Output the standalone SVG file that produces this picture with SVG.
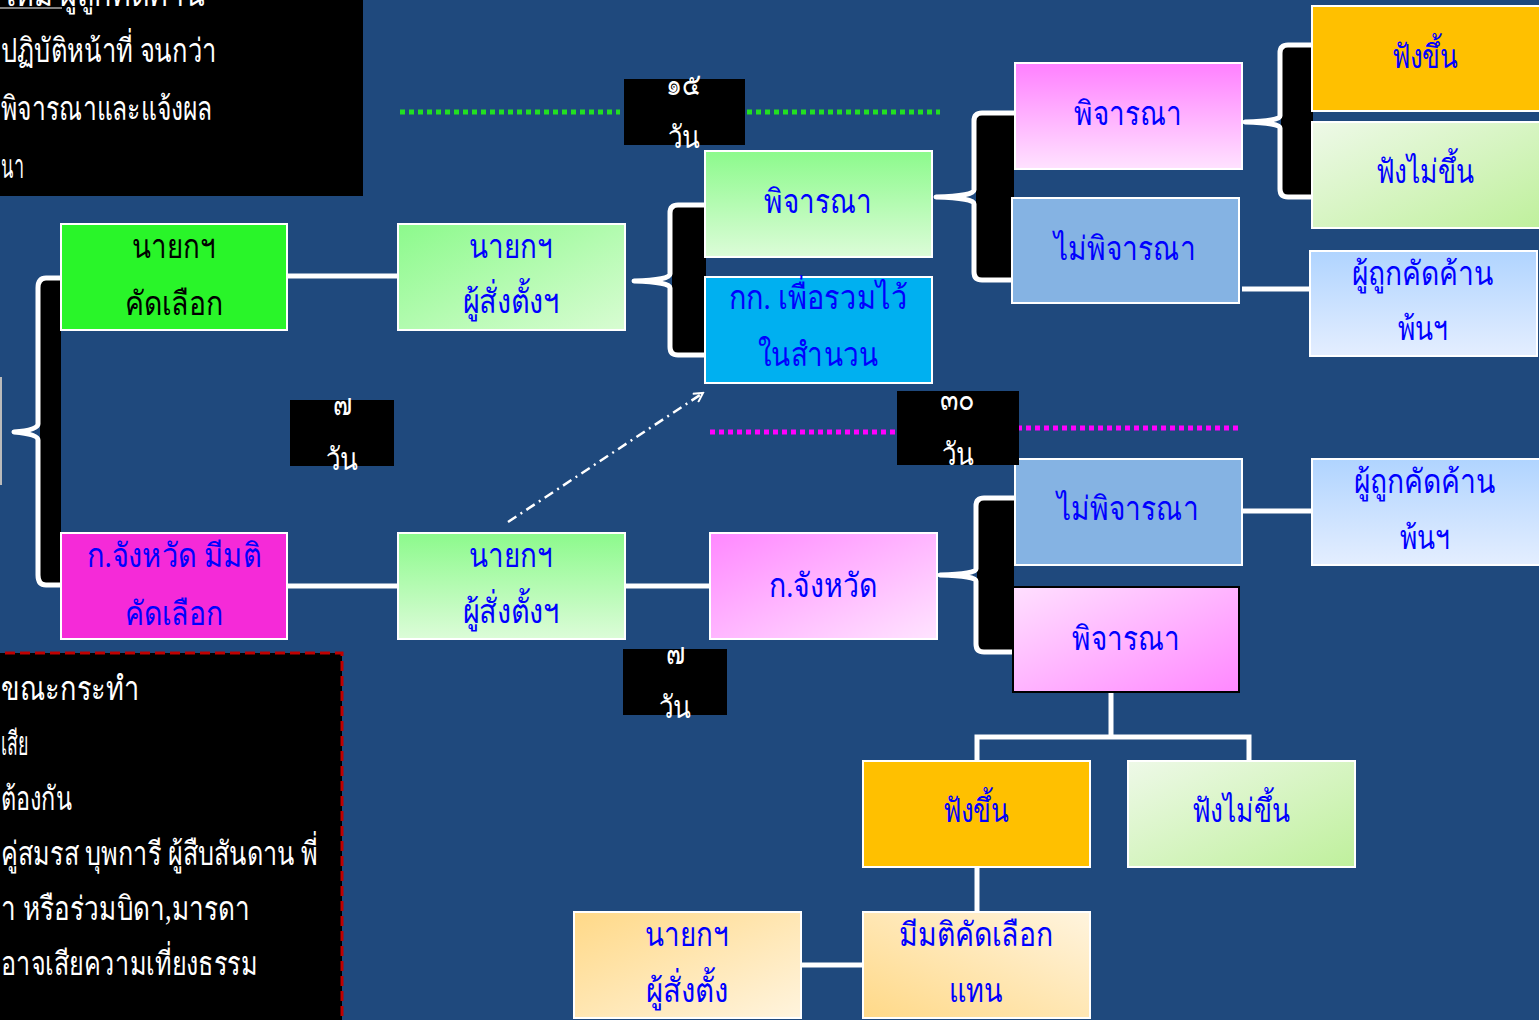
<svg xmlns="http://www.w3.org/2000/svg" width="1539" height="1020" viewBox="0 0 1539 1020">
<style>
.t{font-family:"Liberation Serif","DejaVu Serif",serif;font-size:33px;fill:#0000FF;text-anchor:middle}
.w{font-family:"Liberation Serif","DejaVu Serif",serif;font-size:33px;fill:#FFFFFF}
.d{font-family:"Liberation Serif","DejaVu Serif",serif;font-size:31px;fill:#FFFFFF;text-anchor:middle}
.n{stroke:#FFFFFF;stroke-width:2}
.c{stroke:#FFFFFF;stroke-width:5;fill:none}
.br{stroke:#FFFFFF;stroke-width:5;fill:none;stroke-linejoin:round}
</style>
<defs>
<linearGradient id="gV" x1="0" y1="0" x2="0" y2="1"><stop offset="0" stop-color="#8CFA8C"/><stop offset="1" stop-color="#DCFCD8"/></linearGradient>
<linearGradient id="gD" x1="0" y1="0" x2="1" y2="1"><stop offset="0" stop-color="#8CFA8C"/><stop offset="1" stop-color="#D8FCD2"/></linearGradient>
<linearGradient id="pV" x1="0" y1="0" x2="0" y2="1"><stop offset="0" stop-color="#FF80FF"/><stop offset="1" stop-color="#FFE2FF"/></linearGradient>
<linearGradient id="pD" x1="0" y1="0" x2="1" y2="1"><stop offset="0" stop-color="#FF88FF"/><stop offset="1" stop-color="#FFE4FF"/></linearGradient>
<linearGradient id="pD2" x1="0" y1="0" x2="1" y2="1"><stop offset="0" stop-color="#FFE0FF"/><stop offset="1" stop-color="#FF88FF"/></linearGradient>
<linearGradient id="lg" x1="0" y1="0" x2="1" y2="1"><stop offset="0" stop-color="#EEF9E8"/><stop offset="1" stop-color="#BFF09C"/></linearGradient>
<linearGradient id="bV" x1="0" y1="0" x2="0" y2="1"><stop offset="0" stop-color="#B0D4FF"/><stop offset="1" stop-color="#E4EEFF"/></linearGradient>
<linearGradient id="oD" x1="0" y1="0" x2="1" y2="1"><stop offset="0" stop-color="#FFD988"/><stop offset="1" stop-color="#FFF4DE"/></linearGradient>
<linearGradient id="oD2" x1="0" y1="1" x2="1" y2="0"><stop offset="0" stop-color="#FFD988"/><stop offset="1" stop-color="#FFF4DE"/></linearGradient>
<marker id="arr" markerWidth="12" markerHeight="12" refX="10" refY="6" orient="auto" markerUnits="userSpaceOnUse"><path d="M1,1 L10,6 L1,11" fill="none" stroke="#FFFFFF" stroke-width="2"/></marker>
</defs>
<rect x="0" y="0" width="1539" height="1020" fill="#1F497D"/>

<g id="note-top">
<rect x="-10" y="-10" width="373" height="206" fill="#000000"/>
<text class="w" x="1" y="6" textLength="204" lengthAdjust="spacingAndGlyphs">ใหม่  ผู้ถูกคัดค้าน</text>
<line x1="0" y1="8" x2="62" y2="8" stroke="#FFFFFF" stroke-width="1"/>
<text class="w" x="1" y="62" textLength="216" lengthAdjust="spacingAndGlyphs">ปฏิบัติหน้าที่ จนกว่า</text>
<text class="w" x="1" y="120" textLength="211" lengthAdjust="spacingAndGlyphs">พิจารณาและแจ้งผล</text>
<text class="w" x="1" y="178" textLength="23" lengthAdjust="spacingAndGlyphs">นา</text>
</g>

<g id="note-bottom">
<rect x="-10" y="653" width="352" height="380" fill="#000000" stroke="#C00000" stroke-width="3" stroke-dasharray="10,5"/>
<text class="w" x="1" y="700" textLength="139" lengthAdjust="spacingAndGlyphs">ขณะกระทำ</text>
<text class="w" x="1" y="755" textLength="27" lengthAdjust="spacingAndGlyphs">เสีย</text>
<text class="w" x="1" y="810" textLength="71" lengthAdjust="spacingAndGlyphs">ต้องกัน</text>
<text class="w" x="1" y="865" textLength="317" lengthAdjust="spacingAndGlyphs">คู่สมรส บุพการี ผู้สืบสันดาน พี่</text>
<text class="w" x="1" y="920" textLength="249" lengthAdjust="spacingAndGlyphs">า หรือร่วมบิดา,มารดา</text>
<text class="w" x="1" y="975" textLength="257" lengthAdjust="spacingAndGlyphs">อาจเสียความเที่ยงธรรม</text>
</g>

<g id="edge-box"><rect x="-100" y="378" width="101" height="106" fill="none" stroke="#BBBBBB" stroke-width="2"/></g>

<g id="connectors">
<line class="c" x1="287" y1="276" x2="398" y2="276"/>
<line class="c" x1="287" y1="586" x2="398" y2="586"/>
<line class="c" x1="625" y1="586" x2="710" y2="586"/>
<line class="c" x1="1242" y1="289" x2="1310" y2="289"/>
<line class="c" x1="1242" y1="511" x2="1312" y2="511"/>
<path class="c" d="M1111,692 V737 M977,761 V737 H1249 V761"/>
<line class="c" x1="977" y1="867" x2="977" y2="912"/>
<line class="c" x1="801" y1="965" x2="863" y2="965"/>
<line x1="508" y1="522" x2="703" y2="393" stroke="#FFFFFF" stroke-width="2.5" stroke-dasharray="10,5,2,5" marker-end="url(#arr)"/>
<path stroke="#22E022" stroke-width="5" stroke-dasharray="5,4" d="M400,112 H620 M738,112 H940"/>
<path stroke="#FF00FF" stroke-width="5" stroke-dasharray="5,4" d="M710,432 H907 M1017,428 H1238"/>
<rect x="40" y="278" width="21" height="307" fill="#000000"/>
<path class="br" d="M60,278 H46 Q38,278 38,288 V424 Q38,430 14,432 Q38,434 38,440 V575 Q38,585 46,585 H60"/>
<rect x="672" y="205" width="34" height="150" fill="#000000"/>
<path class="br" d="M705,205 H678 Q670,205 670,213 V274 Q670,280 634,281 Q670,282 670,288 V347 Q670,355 678,355 H705"/>
<rect x="976" y="113" width="38" height="167" fill="#000000"/>
<path class="br" d="M1014,113 H982 Q974,113 974,121 V190 Q974,196 936,197 Q974,198 974,204 V272 Q974,280 982,280 H1014"/>
<rect x="1281" y="45" width="32" height="152" fill="#000000"/>
<path class="br" d="M1312,45 H1288 Q1280,45 1280,53 V116 Q1280,121 1245,122 Q1280,123 1280,128 V189 Q1280,197 1288,197 H1312"/>
<rect x="977" y="498" width="37" height="154" fill="#000000"/>
<path class="br" d="M1014,498 H984 Q976,498 976,506 V569 Q976,574 940,575 Q976,576 976,581 V644 Q976,652 984,652 H1014"/>
</g>

<g id="n-nayok-select"><rect class="n" x="61" y="224" width="226" height="106" fill="#29F529"/><text class="t" x="174" y="258" textLength="84" lengthAdjust="spacingAndGlyphs" style="fill:#000000">นายกฯ</text><text class="t" x="174" y="315" textLength="98" lengthAdjust="spacingAndGlyphs" style="fill:#000000">คัดเลือก</text></g>
<g id="n-province-select"><rect class="n" x="61" y="533" width="226" height="106" fill="#F52AD8"/><text class="t" x="174" y="567" textLength="174" lengthAdjust="spacingAndGlyphs">ก.จังหวัด มีมติ</text><text class="t" x="174" y="625" textLength="98" lengthAdjust="spacingAndGlyphs">คัดเลือก</text></g>
<g id="n-nayok-appoint-1"><rect class="n" x="398" y="224" width="227" height="106" fill="url(#gD)"/><text class="t" x="511" y="258" textLength="84" lengthAdjust="spacingAndGlyphs">นายกฯ</text><text class="t" x="511" y="313" textLength="97" lengthAdjust="spacingAndGlyphs">ผู้สั่งตั้งฯ</text></g>
<g id="n-nayok-appoint-2"><rect class="n" x="398" y="533" width="227" height="106" fill="url(#gV)"/><text class="t" x="511" y="567" textLength="84" lengthAdjust="spacingAndGlyphs">นายกฯ</text><text class="t" x="511" y="623" textLength="97" lengthAdjust="spacingAndGlyphs">ผู้สั่งตั้งฯ</text></g>
<g id="n-consider-green"><rect class="n" x="705" y="151" width="227" height="106" fill="url(#gV)"/><text class="t" x="818" y="213" textLength="108" lengthAdjust="spacingAndGlyphs">พิจารณา</text></g>
<g id="n-kk-file"><rect class="n" x="705" y="277" width="227" height="106" fill="#00B0F0"/><text class="t" x="818" y="309" textLength="179" lengthAdjust="spacingAndGlyphs">กก. เพื่อรวมไว้</text><text class="t" x="818" y="366" textLength="121" lengthAdjust="spacingAndGlyphs">ในสำนวน</text></g>
<g id="n-consider-pink"><rect class="n" x="1015" y="63" width="227" height="106" fill="url(#pV)"/><text class="t" x="1128" y="125" textLength="108" lengthAdjust="spacingAndGlyphs">พิจารณา</text></g>
<g id="n-notconsider-1"><rect class="n" x="1012" y="198" width="227" height="105" fill="#85B3E3"/><text class="t" x="1125" y="260" textLength="142" lengthAdjust="spacingAndGlyphs">ไม่พิจารณา</text></g>
<g id="n-upheld-1"><rect class="n" x="1312" y="6" width="229" height="105" fill="#FFC000"/><text class="t" x="1425" y="68" textLength="67" lengthAdjust="spacingAndGlyphs">ฟังขึ้น</text></g>
<g id="n-rejected-1"><rect class="n" x="1312" y="122" width="229" height="106" fill="url(#lg)"/><text class="t" x="1425" y="183" textLength="99" lengthAdjust="spacingAndGlyphs">ฟังไม่ขึ้น</text></g>
<g id="n-released-1"><rect class="n" x="1310" y="251" width="227" height="105" fill="url(#bV)"/><text class="t" x="1423" y="285" textLength="142" lengthAdjust="spacingAndGlyphs">ผู้ถูกคัดค้าน</text><text class="t" x="1423" y="340" textLength="51" lengthAdjust="spacingAndGlyphs">พ้นฯ</text></g>
<g id="n-province"><rect class="n" x="710" y="533" width="227" height="106" fill="url(#pD)"/><text class="t" x="823" y="597" textLength="108" lengthAdjust="spacingAndGlyphs">ก.จังหวัด</text></g>
<g id="n-notconsider-2"><rect class="n" x="1015" y="459" width="227" height="106" fill="#85B3E3"/><text class="t" x="1128" y="520" textLength="142" lengthAdjust="spacingAndGlyphs">ไม่พิจารณา</text></g>
<g id="n-released-2"><rect class="n" x="1312" y="459" width="229" height="106" fill="url(#bV)"/><text class="t" x="1425" y="493" textLength="142" lengthAdjust="spacingAndGlyphs">ผู้ถูกคัดค้าน</text><text class="t" x="1425" y="549" textLength="51" lengthAdjust="spacingAndGlyphs">พ้นฯ</text></g>
<g id="n-consider-pink-2"><rect x="1013" y="587" width="226" height="105" fill="url(#pD2)" stroke="#000000" stroke-width="2"/><text class="t" x="1126" y="650" textLength="108" lengthAdjust="spacingAndGlyphs">พิจารณา</text></g>
<g id="n-upheld-2"><rect class="n" x="863" y="761" width="227" height="106" fill="#FFC000"/><text class="t" x="976" y="822" textLength="67" lengthAdjust="spacingAndGlyphs">ฟังขึ้น</text></g>
<g id="n-rejected-2"><rect class="n" x="1128" y="761" width="227" height="106" fill="url(#lg)"/><text class="t" x="1241" y="822" textLength="99" lengthAdjust="spacingAndGlyphs">ฟังไม่ขึ้น</text></g>
<g id="n-nayok-appoint-3"><rect class="n" x="574" y="912" width="227" height="106" fill="url(#oD)"/><text class="t" x="687" y="946" textLength="84" lengthAdjust="spacingAndGlyphs">นายกฯ</text><text class="t" x="687" y="1002" textLength="82" lengthAdjust="spacingAndGlyphs">ผู้สั่งตั้ง</text></g>
<g id="n-resolve-select"><rect class="n" x="863" y="912" width="227" height="106" fill="url(#oD2)"/><text class="t" x="976" y="946" textLength="154" lengthAdjust="spacingAndGlyphs">มีมติคัดเลือก</text><text class="t" x="976" y="1002" textLength="54" lengthAdjust="spacingAndGlyphs">แทน</text></g>

<g id="d-15"><rect x="624" y="79" width="121" height="66" fill="#000000"/><text class="d" x="683" y="95" textLength="35" lengthAdjust="spacingAndGlyphs">๑๕</text><text class="d" x="684" y="148" textLength="32" lengthAdjust="spacingAndGlyphs">วัน</text></g>
<g id="d-7a"><rect x="290" y="400" width="104" height="66" fill="#000000"/><text class="d" x="342" y="415" textLength="19" lengthAdjust="spacingAndGlyphs">๗</text><text class="d" x="342" y="470" textLength="32" lengthAdjust="spacingAndGlyphs">วัน</text></g>
<g id="d-30"><rect x="897" y="391" width="122" height="74" fill="#000000"/><text class="d" x="957" y="410" textLength="35" lengthAdjust="spacingAndGlyphs">๓๐</text><text class="d" x="958" y="465" textLength="32" lengthAdjust="spacingAndGlyphs">วัน</text></g>
<g id="d-7b"><rect x="623" y="649" width="104" height="66" fill="#000000"/><text class="d" x="675" y="664" textLength="19" lengthAdjust="spacingAndGlyphs">๗</text><text class="d" x="675" y="718" textLength="32" lengthAdjust="spacingAndGlyphs">วัน</text></g>
</svg>
